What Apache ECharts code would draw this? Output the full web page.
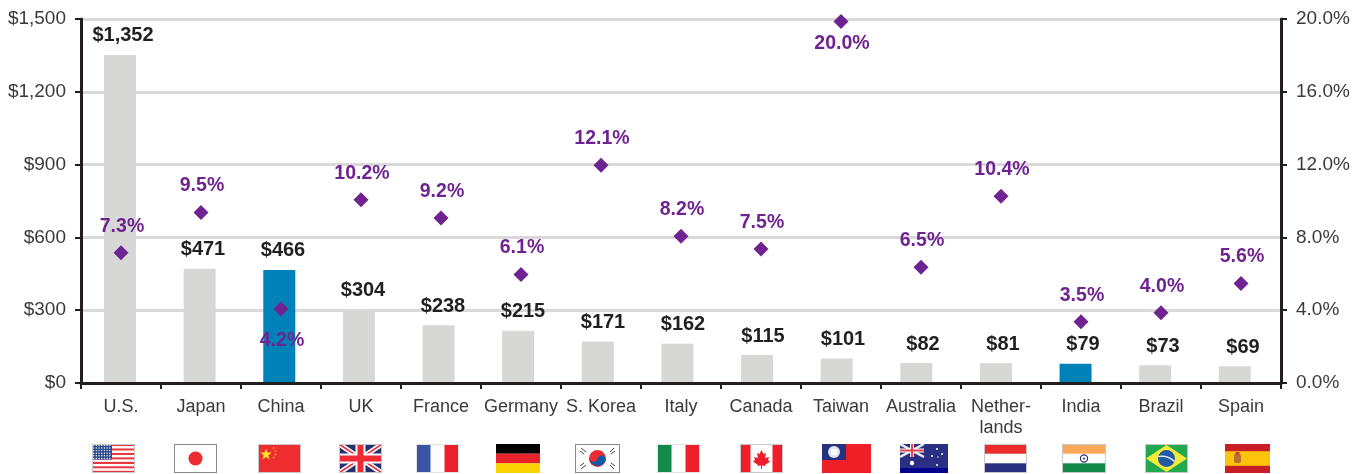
<!DOCTYPE html>
<html>
<head>
<meta charset="utf-8">
<script src="https://cdn.jsdelivr.net/npm/echarts@6/dist/echarts.min.js"></script>
<style>html,body{margin:0;padding:0;background:#fff}#c{width:1369px;height:474px}</style>
</head>
<body>
<div id="c"></div>
<script>
const categories = ['U.S.','Japan','China','UK','France','Germany','S. Korea','Italy','Canada','Taiwan','Australia','Nether-\nlands','India','Brazil','Spain'];
const gdpValues = [1352,471,466,304,238,215,171,162,115,101,82,81,79,73,69];
const shareValues = [7.3,9.5,4.2,10.2,9.2,6.1,12.1,8.2,7.5,20.0,6.5,10.4,3.5,4.0,5.6];
const highlighted = ['China','India'];
const labelBelow = {China:[1,3],Taiwan:[1,-6]};

const FONT = '"Liberation Sans", Arial, sans-serif';
const INK = '#231f20', TEXT = '#3a3a3c', GREY = '#d7d7d5', BLUE = '#0082b8', PURPLE = '#6f2390';

function stripes(w,h,n,a,b){let s='';const d=h/n;for(let i=0;i<n;i++)s+=`<rect x="0" y="${i*d}" width="${w}" height="${d}" fill="${i%2?b:a}"/>`;return s;}
function stars(){let s='';for(let r=0;r<6;r++)for(let c=0;c<7;c++)s+=`<circle cx="${1.6+c*2.7}" cy="${1.4+r*2.6}" r=".7" fill="#fff"/>`;return s;}
const edge=(w,c)=>`<rect x=".5" y=".5" width="${w-1}" height="28" fill="none" stroke="${c||'#c8c8c8'}"/>`;
const flags = [
 {x:92,w:43,svg:()=>stripes(43,29,13,'#e8383f','#fff')+'<rect width="20" height="15.6" fill="#2c4a8e"/>'+stars()+edge(43)},
 {x:174,w:43,svg:()=>'<rect width="43" height="29" fill="#fff"/><ellipse cx="21.5" cy="14.5" rx="7" ry="7" fill="#ee2b30"/>'+edge(43,'#8a8a8a')},
 {x:258,w:43,svg:()=>'<rect width="43" height="29" fill="#ee2e2e"/><polygon points="8,4.5 9.4,8.6 13.8,8.6 10.3,11.2 11.6,15.4 8,12.9 4.4,15.4 5.7,11.2 2.2,8.6 6.6,8.6" fill="#fbe62a"/><circle cx="15.5" cy="4" r=".8" fill="#fbe62a"/><circle cx="17.5" cy="7" r=".8" fill="#fbe62a"/><circle cx="17.5" cy="10.5" r=".8" fill="#fbe62a"/><circle cx="15.5" cy="13.5" r=".8" fill="#fbe62a"/>'+edge(43)},
 {x:339,w:43,svg:()=>'<rect width="43" height="29" fill="#26306f"/><path d="M0 0L43 29M43 0L0 29" stroke="#fff" stroke-width="5"/><path d="M0 0L43 29M43 0L0 29" stroke="#ee2b35" stroke-width="1.6"/><rect x="16.5" width="10" height="29" fill="#fff"/><rect y="9.5" width="43" height="10" fill="#fff"/><rect x="18.5" width="6" height="29" fill="#ee2b35"/><rect y="11.5" width="43" height="6" fill="#ee2b35"/>'+edge(43)},
 {x:416,w:43,svg:()=>'<rect width="43" height="29" fill="#fff"/><rect width="14.5" height="29" fill="#3a54a4"/><rect x="28.5" width="14.5" height="29" fill="#ee1f2b"/>'+edge(43,'#e2e2e2')},
 {x:496,w:44,svg:()=>'<rect width="44" height="9.7" fill="#000"/><rect y="9.7" width="44" height="9.7" fill="#e8232a"/><rect y="19.4" width="44" height="9.6" fill="#fcd200"/>'},
 {x:575,w:45,svg:()=>'<rect width="45" height="29" fill="#fff"/><circle cx="22.5" cy="14.5" r="8.5" fill="#ee2b30"/><path d="M14.3 12.5a8.5 8.5 0 0 0 16.4 4a4 4 0 0 0 -8 -2a4 4 0 0 1 -8.4 -2z" fill="#0b5aa8"/><path d="M6 4l5 4M5 7l4 3M35 8l4-4M36 10l4-3M6 25l5-4M5 22l4-3M35 21l4 4M36 19l4 3" stroke="#444" stroke-width="1"/>'+edge(45,'#8a8a8a')},
 {x:657,w:43,svg:()=>'<rect width="43" height="29" fill="#fff"/><rect width="14.5" height="29" fill="#138a4a"/><rect x="28.5" width="14.5" height="29" fill="#ee1f2b"/>'+edge(43,'#e2e2e2')},
 {x:740,w:43,svg:()=>'<rect width="43" height="29" fill="#fff"/><rect width="10.5" height="29" fill="#ee1f2b"/><rect x="32.5" width="10.5" height="29" fill="#ee1f2b"/><polygon points="21.5,6 23.5,10 26,9 25,14 29,13 28,16 30,17.5 25,21 25.5,22 22,21.5 22,25 21,25 21,21.5 17.5,22 18,21 13,17.5 15,16 14,13 18,14 17,9 19.5,10" fill="#ee1f2b"/>'+edge(43)},
 {x:822,w:49,svg:()=>'<rect width="49" height="29" fill="#ee1f27"/><rect width="24" height="16" fill="#27327c"/><circle cx="12" cy="8" r="6" fill="#dfe4f5"/><circle cx="12" cy="8" r="3.2" fill="#fff"/>'},
 {x:900,w:48,svg:()=>'<rect width="48" height="29" fill="#2a2f83"/><rect y="24" width="48" height="5" fill="#00008f"/><path d="M0 0L24 13M24 0L0 13" stroke="#e8eaf5" stroke-width="2.5"/><path d="M12 0V13M0 6.5H24" stroke="#fff" stroke-width="4"/><path d="M12 0V13M0 6.5H24" stroke="#e8434a" stroke-width="2"/><circle cx="12" cy="19" r="2.2" fill="#fff"/><circle cx="37" cy="5" r="1" fill="#fff"/><circle cx="37" cy="21" r="1" fill="#fff"/><circle cx="32" cy="12" r="1" fill="#fff"/><circle cx="42" cy="10" r="1" fill="#fff"/><circle cx="38" cy="13" r=".7" fill="#fff"/>'},
 {x:984,w:43,svg:()=>'<rect width="43" height="29" fill="#fff"/><rect width="43" height="9.7" fill="#ee2b2b"/><rect y="19.3" width="43" height="9.7" fill="#2a2f7f"/>'+edge(43)},
 {x:1062,w:44,svg:()=>'<rect width="44" height="29" fill="#fff"/><rect width="44" height="9.7" fill="#fba85a"/><rect y="19.3" width="44" height="9.7" fill="#138a4a"/><circle cx="22" cy="14.5" r="3.6" fill="none" stroke="#2a2f7f" stroke-width="1.2"/><circle cx="22" cy="14.5" r="1" fill="#2a2f7f"/>'+edge(44)},
 {x:1145,w:43,svg:()=>'<rect width="43" height="29" fill="#22a84f"/><polygon points="21.5,1 42,14.5 21.5,28 1,14.5" fill="#f4ea3a"/><circle cx="21.5" cy="14.5" r="8.5" fill="#1f5aa6"/><path d="M13.3 12.5Q22 11 29.6 17.5" stroke="#fff" stroke-width="1.2" fill="none"/>'+edge(43)},
 {x:1225,w:45,svg:()=>'<rect width="45" height="29" fill="#c81f26"/><rect y="7.2" width="45" height="14.6" fill="#fcc30d"/><rect x="9" y="10" width="7" height="9" rx="2" fill="#b8722c"/><rect x="10.5" y="8" width="4" height="3" fill="#c2452a"/>'}
];
function flagUri(f){
  const svg=`<svg xmlns="http://www.w3.org/2000/svg" width="${f.w}" height="29" viewBox="0 0 ${f.w} 29">${f.svg()}</svg>`;
  return 'data:image/svg+xml;charset=utf-8,'+encodeURIComponent(svg);
}

const money = v => '$' + String(v).replace(/\B(?=(\d{3})+$)/g, ',');
const yLabel = {margin:15,fontSize:19,color:TEXT,fontFamily:FONT,verticalAlign:'middle',padding:[2,0,0,0]};
const chart = echarts.init(document.getElementById('c'), null, {renderer:'canvas'});
chart.setOption({
  animation:false,
  backgroundColor:'#fff',
  textStyle:{fontFamily:FONT},
  grid:{left:81,right:88,top:19,bottom:91,containLabel:false},
  xAxis:[
    {type:'category',data:categories,z:5,
      axisLine:{lineStyle:{color:INK,width:3}},
      axisTick:{show:true,length:6,lineStyle:{color:INK,width:2}},
      axisLabel:{interval:0,margin:14,fontSize:18,lineHeight:21,color:TEXT,fontFamily:FONT}},
    // hidden scale for the bars, which sit on a slightly tighter pitch than the category ticks
    {type:'value',show:false,min:-0.49,max:14.58,splitLine:{show:false}}
  ],
  yAxis:[
    {type:'value',min:0,max:1500,interval:300,position:'left',
      axisLine:{show:true,onZero:false,lineStyle:{color:INK,width:3}},
      axisTick:{show:true,length:6,lineStyle:{color:INK,width:2}},
      axisLabel:Object.assign({formatter:money},yLabel),
      splitLine:{show:true,lineStyle:{color:'#d9d9d9',width:3}}},
    {type:'value',min:0,max:20,interval:4,position:'right',
      axisLine:{show:true,onZero:false,lineStyle:{color:INK,width:3}},
      axisTick:{show:true,length:6,lineStyle:{color:INK,width:2}},
      axisLabel:Object.assign({formatter:v=>v.toFixed(1)+'%'},yLabel),
      splitLine:{show:false}}
  ],
  series:[
    {type:'bar',barWidth:32,z:2,xAxisIndex:1,yAxisIndex:0,
      data:gdpValues.map((v,i)=>({value:[i,v],itemStyle:{color:highlighted.includes(categories[i])?BLUE:GREY}}))},
    {type:'line',xAxisIndex:0,yAxisIndex:0,z:3,symbol:'circle',symbolSize:0,lineStyle:{opacity:0},itemStyle:{color:'transparent'},
      data:gdpValues,
      label:{show:true,position:'top',distance:9,offset:[2,0],fontSize:20,fontWeight:'bold',color:INK,fontFamily:FONT,formatter:p=>money(p.value)},
      emphasis:{disabled:true}},
    {type:'line',xAxisIndex:0,yAxisIndex:1,z:4,lineStyle:{opacity:0},showSymbol:true,symbol:'diamond',symbolSize:15,symbolOffset:[0,2.5],
      itemStyle:{color:PURPLE},
      data:shareValues.map((v,i)=>{const b=labelBelow[categories[i]];return {value:v,label:{position:b?'bottom':'top',offset:b||[1,2]}};}),
      label:{show:true,distance:11,fontSize:19.5,fontWeight:'bold',color:PURPLE,fontFamily:FONT,formatter:p=>p.value.toFixed(1)+'%'},
      emphasis:{disabled:true}}
  ],
  graphic:flags.map(f=>({type:'image',x:f.x,y:444,style:{image:flagUri(f),width:f.w,height:29},silent:true}))
});
</script>
</body>
</html>
